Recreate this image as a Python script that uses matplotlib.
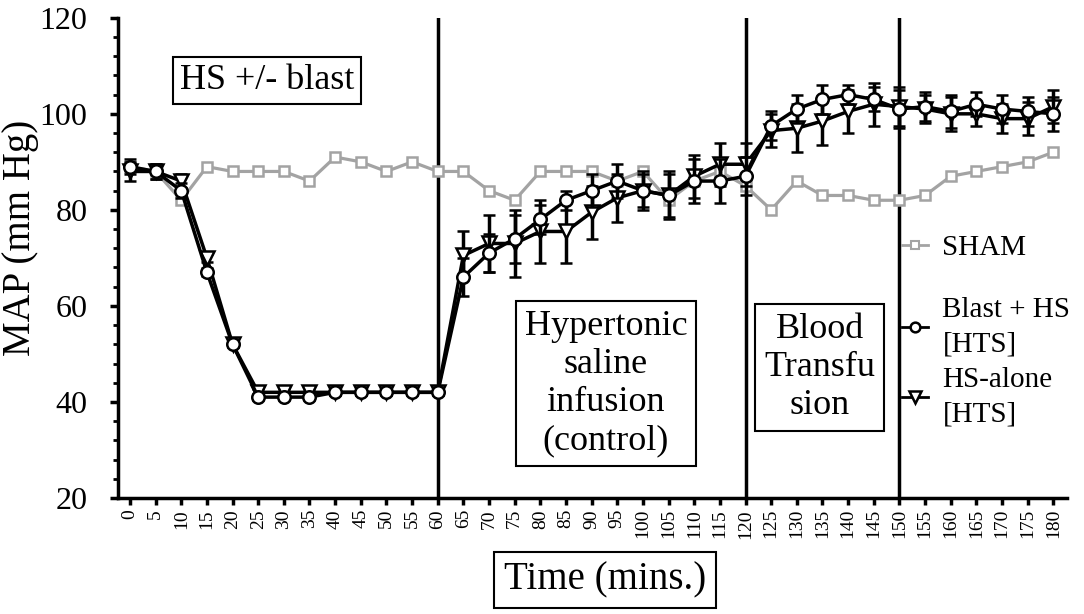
import matplotlib
matplotlib.use("Agg")
import matplotlib.pyplot as plt
import numpy as np
from matplotlib.lines import Line2D
from matplotlib.ticker import MultipleLocator

plt.rcParams['font.family'] = ['Liberation Serif', 'DejaVu Serif']

# time points (mins)
time = list(range(0, 181, 5))

sham = [89, 88, 82, 89, 88, 88, 88, 86, 91, 90, 88, 90, 88,
        88, 84, 82, 88, 88, 88, 86, 88, 82, 86, 88, 85,
        80, 86, 83, 83, 82, 82, 83, 87, 88, 89, 90, 92]

blast_hs = [89, 88, 84, 67, 52, 41, 41, 41, 42, 42, 42, 42, 42,
            66, 71, 74, 78, 82, 84, 86, 84, 83, 86, 86, 87,
            97.5, 101, 103, 104, 103, 101, 101.5, 100.5, 102, 101, 100.5, 100]
blast_err = [1.5, 1.5, 1.5, 0.8, 0.6, 0.6, 0.6, 0.5, 0.5, 0.5, 0.5, 0.5, 0.5,
             4, 4, 5, 3, 2, 3.5, 3.5, 3.5, 4.5, 4.5, 4.5, 4,
             3, 3, 3, 2, 2.5, 4, 3, 3.5, 2.5, 3, 3, 3.5]

hs_alone = [88, 88, 86, 70, 52, 42, 42, 42, 42, 42, 42, 42, 42,
            70.5, 73, 73, 75.5, 75.5, 79.5, 82.5, 84, 83, 87, 89.5, 89.5,
            96.5, 97, 98.5, 100.5, 102, 101.5, 101, 100, 100, 99, 99, 101.5]
hs_err = [2, 1.5, 1.5, 0.8, 0.6, 0.6, 0.6, 0.5, 0.5, 0.5, 0.5, 0.5, 0.5,
          5, 6, 7, 6.5, 6.5, 5.5, 5, 4, 5, 4.5, 4.5, 4.5,
          3.5, 5, 5, 4.5, 4.5, 4, 3, 3.5, 2.5, 3, 3.5, 3.5]

phase_lines = [60, 120, 150]
grey = '#a3a3a3'

fig = plt.figure(figsize=(10.84, 6.14), dpi=100)
ax = fig.add_axes([0.109, 0.189, 0.875, 0.782])

ax.plot(time, sham, color=grey, lw=2.3, marker='s', ms=7.5,
        mfc='white', mec=grey, mew=1.8, zorder=2)
ax.errorbar(time, hs_alone, yerr=hs_err, color='black', lw=2.5,
            marker='v', ms=10, mfc='white', mec='black', mew=1.8,
            elinewidth=2.5, capsize=4, capthick=2.5, zorder=3)
ax.errorbar(time, blast_hs, yerr=blast_err, color='black', lw=2.5,
            marker='o', ms=9, mfc='white', mec='black', mew=1.8,
            elinewidth=2.5, capsize=4, capthick=2.5, zorder=4)

for t in phase_lines:
    ax.axvline(t, color='black', lw=2.5, zorder=1)

ax.set_xlim(-2.3, 182.6)
ax.set_ylim(20, 120)
ax.set_xticks(time)
ax.set_xticklabels([str(t) for t in time], rotation=90, fontsize=14)
ax.yaxis.set_major_locator(MultipleLocator(20))
ax.yaxis.set_minor_locator(MultipleLocator(4))
ax.tick_params(axis='y', which='major', labelsize=23, width=2.5, length=6, pad=16)
ax.tick_params(axis='y', which='minor', width=2, length=3.5)
ax.tick_params(axis='x', width=2.5, length=5, pad=3)

for side in ['top', 'right']:
    ax.spines[side].set_visible(False)
for side in ['left', 'bottom']:
    ax.spines[side].set_linewidth(2.5)

fig.text(21 / 1084, 1 - 238 / 614, 'MAP (mm Hg)', fontsize=28,
         rotation=90, ha='center', va='center')

box = dict(boxstyle='square,pad=0.2', fc='white', ec='black', lw=1.5)
ax.text(26.7, 106.9, 'HS +/- blast', fontsize=26, ha='center', va='center', bbox=box)
ax.text(92.8, 43.8, 'Hypertonic\nsaline\ninfusion\n(control)', fontsize=26,
        ha='center', va='center', linespacing=1.2,
        bbox=dict(boxstyle='square,pad=0.25', fc='white', ec='black', lw=1.5))
ax.text(134.5, 47.1, 'Blood\nTransfu\nsion', fontsize=26,
        ha='center', va='center', linespacing=1.2,
        bbox=dict(boxstyle='square,pad=0.25', fc='white', ec='black', lw=1.5))
fig.text(0.558, 0.055, 'Time (mins.)', fontsize=28, ha='center', va='center',
         bbox=dict(boxstyle='square,pad=0.25', fc='white', ec='black', lw=1.5))

h_sham = Line2D([], [], color=grey, lw=2, marker='s', ms=6, mfc='white', mec=grey, mew=1.5)
h_blast = Line2D([], [], color='black', lw=2, marker='o', ms=7, mfc='white', mec='black', mew=1.8)
h_hs = Line2D([], [], color='black', lw=2, marker='v', ms=8, mfc='white', mec='black', mew=1.8)

leg_kw = dict(loc='upper left', frameon=False, fontsize=21, handlelength=0.9,
              handletextpad=0.5, borderaxespad=0, borderpad=0)
leg1 = ax.legend([h_sham], ['SHAM'], bbox_to_anchor=(0.826, 0.548), **leg_kw)
ax.add_artist(leg1)
leg2 = ax.legend([h_blast, h_hs], ['Blast + HS\n[HTS]', 'HS-alone\n[HTS]'],
                 bbox_to_anchor=(0.826, 0.418), labelspacing=0.35, **leg_kw)
for txt in leg2.get_texts():
    txt.set_linespacing(1.4)

fig.savefig('out.png', dpi=100)
